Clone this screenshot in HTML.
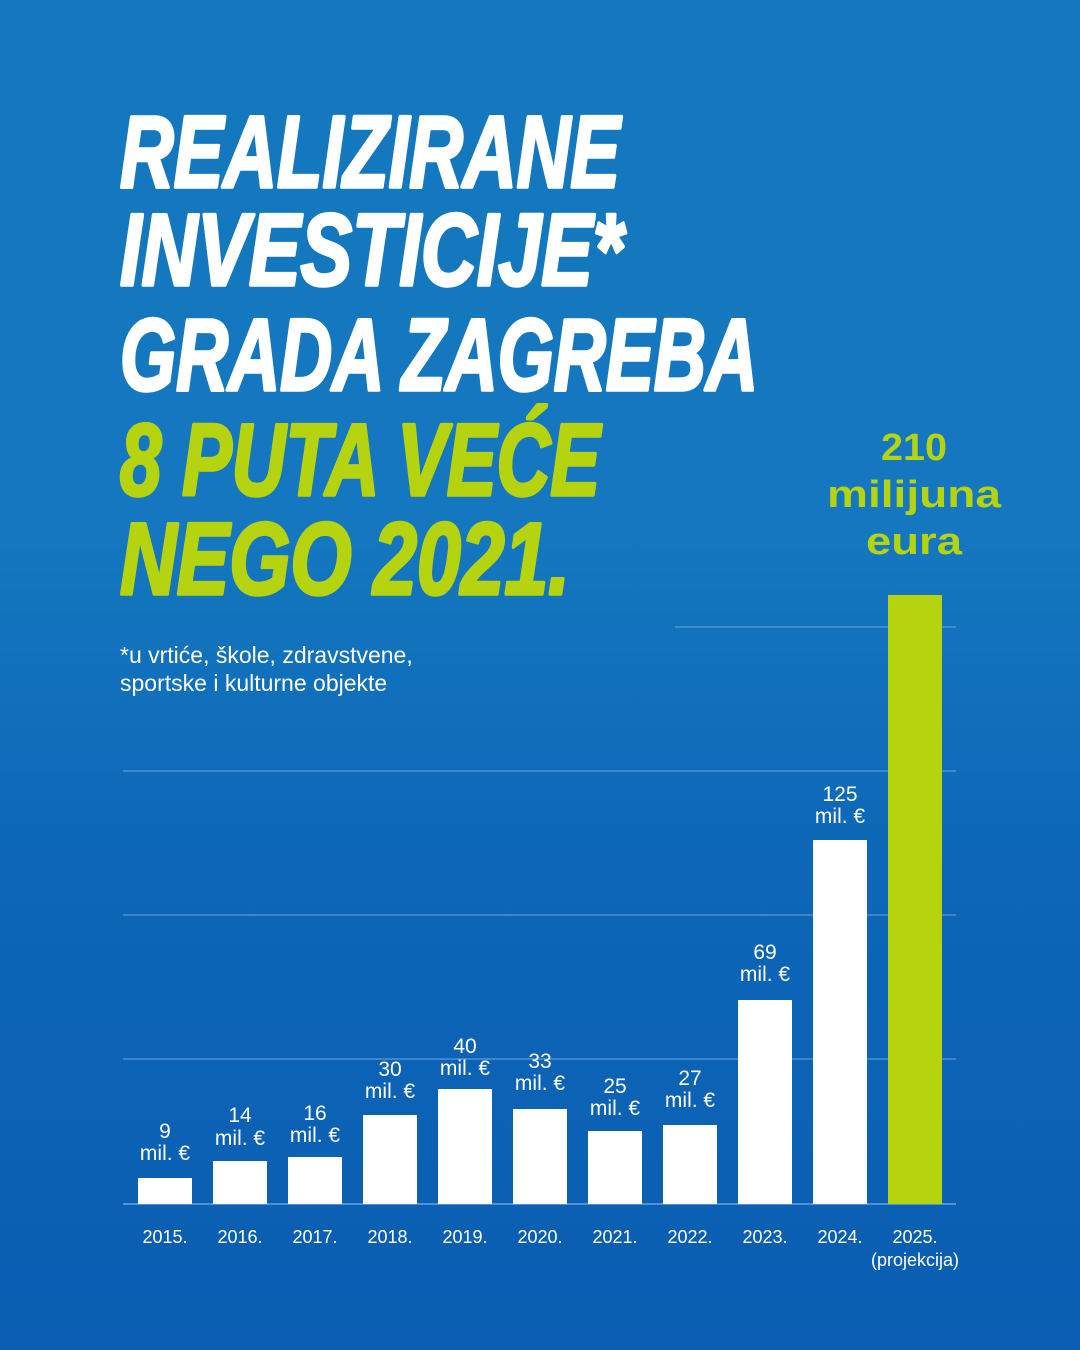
<!DOCTYPE html>
<html><head><meta charset="utf-8"><style>
html,body{margin:0;padding:0;width:1080px;height:1350px;overflow:hidden}
body{background:linear-gradient(180deg,#1478bf 0%,#1477bf 40%,#0d66b7 65%,#0a5db2 100%)}
svg{display:block}
</style></head><body>
<svg width="1080" height="1350" viewBox="0 0 1080 1350" xmlns="http://www.w3.org/2000/svg">
<g font-family="Liberation Sans, sans-serif" font-weight="bold" font-style="italic" font-size="102" stroke-width="3.5" stroke-linejoin="round">
<text x="120" y="187" fill="#fff" stroke="#fff" textLength="500" lengthAdjust="spacingAndGlyphs">REALIZIRANE</text>
<text x="120" y="285" fill="#fff" stroke="#fff" textLength="503" lengthAdjust="spacingAndGlyphs">INVESTICIJE*</text>
<text x="120" y="390" fill="#fff" stroke="#fff" textLength="638" lengthAdjust="spacingAndGlyphs">GRADA ZAGREBA</text>
<text x="120" y="495" fill="#b5d30f" stroke="#b5d30f" textLength="480" lengthAdjust="spacingAndGlyphs">8 PUTA VEĆE</text>
<text x="120" y="594" fill="#b5d30f" stroke="#b5d30f" textLength="450" lengthAdjust="spacingAndGlyphs">NEGO 2021.</text>
</g>
<g font-family="Liberation Sans, sans-serif" font-size="23" fill="#fff">
<text x="120" y="663">*u vrtiće, škole, zdravstvene,</text>
<text x="120" y="691">sportske i kulturne objekte</text>
</g>
<g font-family="Liberation Sans, sans-serif" font-weight="bold" font-size="38" fill="#b5d30f" text-anchor="middle">
<text x="914" y="460" textLength="66" lengthAdjust="spacingAndGlyphs">210</text>
<text x="914" y="507" textLength="174" lengthAdjust="spacingAndGlyphs">milijuna</text>
<text x="914" y="554" textLength="96" lengthAdjust="spacingAndGlyphs">eura</text>
</g>
<g stroke="#5b9ad6" stroke-width="1.2">
<line x1="675" y1="627" x2="956" y2="627"/>
<line x1="123" y1="771" x2="956" y2="771"/>
<line x1="123" y1="915" x2="956" y2="915"/>
<line x1="123" y1="1059" x2="956" y2="1059"/>
<line x1="123" y1="1204" x2="956" y2="1204" stroke="#6aa6dd" stroke-width="1.5"/>
</g>
<g fill="#fff">
<rect x="138" y="1178" width="54" height="26"/>
<rect x="213" y="1161" width="54" height="43"/>
<rect x="288" y="1157" width="54" height="47"/>
<rect x="363" y="1115" width="54" height="89"/>
<rect x="438" y="1089" width="54" height="115"/>
<rect x="513" y="1109" width="54" height="95"/>
<rect x="588" y="1131" width="54" height="73"/>
<rect x="663" y="1125" width="54" height="79"/>
<rect x="738" y="1000" width="54" height="204"/>
<rect x="813" y="840" width="54" height="364"/>
</g>
<rect x="888" y="595" width="54" height="609" fill="#b5d30f"/>
<g font-family="Liberation Sans, sans-serif" font-size="21" fill="#fff" text-anchor="middle">
<text x="165" y="1138">9</text><text x="165" y="1160">mil. €</text>
<text x="240" y="1122">14</text><text x="240" y="1145">mil. €</text>
<text x="315" y="1120">16</text><text x="315" y="1142">mil. €</text>
<text x="390" y="1076">30</text><text x="390" y="1098">mil. €</text>
<text x="465" y="1053">40</text><text x="465" y="1075">mil. €</text>
<text x="540" y="1068">33</text><text x="540" y="1090">mil. €</text>
<text x="615" y="1093">25</text><text x="615" y="1115">mil. €</text>
<text x="690" y="1085">27</text><text x="690" y="1107">mil. €</text>
<text x="765" y="959">69</text><text x="765" y="981">mil. €</text>
<text x="840" y="801">125</text><text x="840" y="823">mil. €</text>
</g>
<g font-family="Liberation Sans, sans-serif" font-size="18" fill="#fff" text-anchor="middle">
<text x="165" y="1243">2015.</text>
<text x="240" y="1243">2016.</text>
<text x="315" y="1243">2017.</text>
<text x="390" y="1243">2018.</text>
<text x="465" y="1243">2019.</text>
<text x="540" y="1243">2020.</text>
<text x="615" y="1243">2021.</text>
<text x="690" y="1243">2022.</text>
<text x="765" y="1243">2023.</text>
<text x="840" y="1243">2024.</text>
<text x="915" y="1243">2025.</text>
<text x="915" y="1266">(projekcija)</text>
</g>
</svg>
</body></html>
